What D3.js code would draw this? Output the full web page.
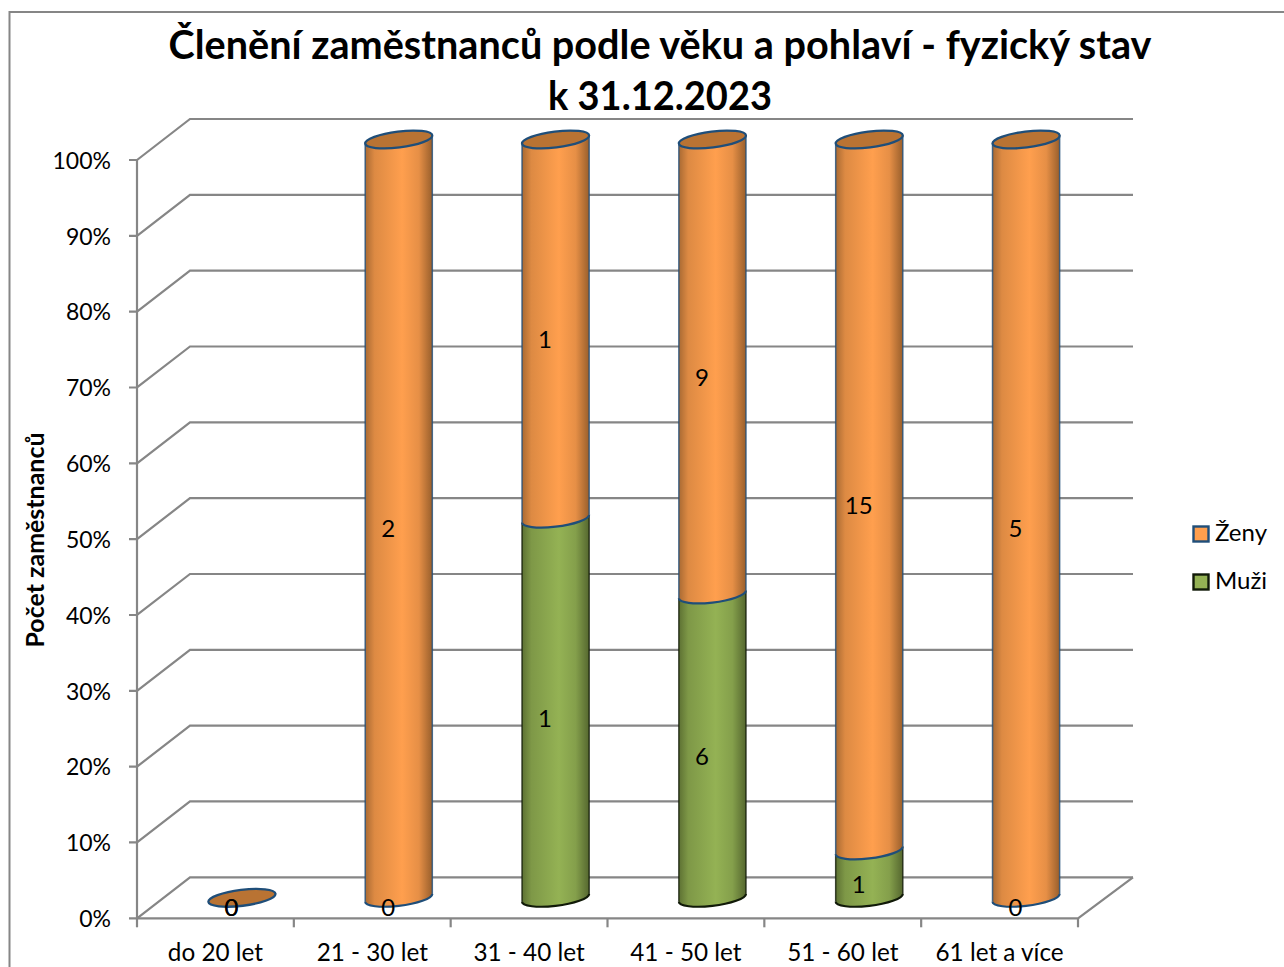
<!DOCTYPE html>
<html><head><meta charset="utf-8">
<script src="https://cdn.jsdelivr.net/npm/d3@7"></script>
<style>html,body{margin:0;padding:0;background:#fff}svg{display:block}text{font-family:Lato,"Open Sans",sans-serif;fill:#000}</style>
</head><body><svg id="c" width="1284" height="967"></svg>
<script>
const categories=["do 20 let","21 - 30 let","31 - 40 let","41 - 50 let","51 - 60 let","61 let a více"];
const zeny=[0,2,1,9,15,5];
const muzi=[0,0,1,6,1,0];
const seriesNames=["Muži","Ženy"];
const titleLines=["Členění zaměstnanců podle věku a pohlaví - fyzický stav","k 31.12.2023"];
const yTicks=[0,.1,.2,.3,.4,.5,.6,.7,.8,.9,1];

const svg=d3.select("#c");
const W=1284,H=967;
const x=d3.scaleBand().domain(categories).range([137,1078]);
const y=d3.scaleLinear().domain([0,1]).range([918.3,160]);
const depth={x:53,y:-41}, mid={x:26.5,y:-20.5}, lab={x:16,y:-10};
const GRID="#868686";

svg.append("path").attr("d",`M9.5,${H}V12H${W}`).attr("fill","none").attr("stroke",GRID).attr("stroke-width",2);

const defs=svg.append("defs");
function grad(id,edgeL,c,edgeR){
  const g=defs.append("linearGradient").attr("id",id);
  [[0,edgeL],[.14,d3.interpolateRgb(edgeL,c)(.6)],[.55,c],[.8,d3.interpolateRgb(c,edgeR)(.25)],[1,edgeR]]
   .forEach(([o,k])=>g.append("stop").attr("offset",o).attr("stop-color",k));
}
grad("gO","#a96a33","#ff9f4e","#995f2c");
grad("gG","#5d7133","#94b254","#55672f");

// walls
const g=svg.append("g").attr("fill","none").attr("stroke",GRID).attr("stroke-width",2.2);
yTicks.forEach(t=>{
  const v=y(t);
  g.append("path").attr("d",`M129,${v}H137L${137+depth.x},${v+depth.y}H${1078+55}`);
});
g.append("path").attr("d",`M137,${y(1)}V${y(0)}H1078L${1078+55},${y(0)+depth.y}`);
g.append("path").attr("d",`M1078,${y(0)}V${y(0)+9}`);
categories.forEach(c=>g.append("path").attr("d",`M${x(c)},${y(0)}V${y(0)+9}`));

// tick labels
svg.append("g").selectAll("text").data(yTicks).join("text")
 .attr("x",111).attr("y",t=>y(t)+3).attr("text-anchor","end").attr("dominant-baseline","middle")
 .attr("font-size",23).text(d3.format(".0%"));
svg.append("g").selectAll("text").data(categories).join("text")
 .attr("x",c=>x(c)+x.bandwidth()/2).attr("y",961).attr("text-anchor","middle")
 .attr("font-size",24.3).text(c=>c);

// cylinders
const table=categories.map((c,i)=>({cat:c,"Muži":muzi[i],"Ženy":zeny[i]}));
const stack=d3.stack().keys(seriesNames).offset(d3.stackOffsetExpand)(table);
const a=33.8,b=8,rot=-7,th=7*Math.PI/180;
const ex=Math.sqrt(a*a*Math.cos(th)**2+b*b*Math.sin(th)**2);
const ey=(a*a-b*b)*Math.sin(th)*Math.cos(th)/ex;
const style={"Ženy":{f:"url(#gO)",s:"#1f4e79"},"Muži":{f:"url(#gG)",s:"#111a08"}};
const bars=svg.append("g");
categories.forEach((c,i)=>{
  const cx=x(c)+x.bandwidth()/2+mid.x;
  stack.forEach(s=>{
    const d=s[i],st=style[s.key];
    if(d[1]-d[0]<=0)return;
    const y0=y(d[0])+mid.y,y1=y(d[1])+mid.y;
    const L=cx-ex,R=cx+ex;
    bars.append("path")
      .attr("d",`M${L},${y1+ey}L${L},${y0+ey}A${a},${b} ${rot} 0 0 ${R},${y0-ey}L${R},${y1-ey}A${a},${b} ${rot} 0 1 ${L},${y1+ey}Z`)
      .attr("fill",st.f);
    bars.append("path").attr("d",`M${L},${y1+ey}V${y0+ey}M${R},${y0-ey}V${y1-ey}`)
      .attr("fill","none").attr("stroke",st.s).attr("stroke-width",1.5).attr("stroke-opacity",.8);
    bars.append("path").attr("d",`M${L},${y0+ey}A${a},${b} ${rot} 0 0 ${R},${y0-ey}`)
      .attr("fill","none").attr("stroke",st.s).attr("stroke-width",2.2);
  });
  // top cap
  const total=zeny[i]+muzi[i];
  const cy=y(total>0?1:0)+mid.y;
  bars.append("ellipse").attr("cx",0).attr("cy",0).attr("rx",a).attr("ry",b)
    .attr("transform",`translate(${cx},${cy}) rotate(${rot})`)
    .attr("fill","#b97333").attr("stroke","#1f4e79").attr("stroke-width",2.3);
});

// data labels
const labels=svg.append("g");
stack.forEach(s=>{
  categories.forEach((c,i)=>{
    const d=s[i];
    labels.append("text")
      .attr("x",x(c)+x.bandwidth()/2+lab.x)
      .attr("y",y((d[0]+d[1])/2)+lab.y+2)
      .attr("text-anchor","middle").attr("dominant-baseline","middle")
      .attr("font-size",24).text(s.key==="Ženy"?zeny[i]:muzi[i]);
  });
});

// axis title
svg.append("text").attr("transform","translate(44,540) rotate(-90)").attr("text-anchor","middle")
 .attr("font-size",24).attr("font-weight",700).attr("textLength",215).attr("lengthAdjust","spacingAndGlyphs").text("Počet zaměstnanců");

// chart title
const titleWidths=[983,224];
svg.append("g").selectAll("text").data(titleLines).join("text")
 .attr("x",660).attr("y",(d,i)=>59+i*51).attr("text-anchor","middle")
 .attr("font-size",40).attr("font-weight",700)
 .attr("textLength",(d,i)=>titleWidths[i]).attr("lengthAdjust","spacingAndGlyphs").text(d=>d);

// legend
const leg=[["Ženy",534],["Muži",582]];
leg.forEach(([n,cy])=>{
  const st=style[n];
  svg.append("rect").attr("x",1193.5).attr("y",cy-7.5).attr("width",15).attr("height",15)
    .attr("fill",n==="Ženy"?"#ff9f4e":"#94b254").attr("stroke",st.s).attr("stroke-width",2.4);
  svg.append("text").attr("x",1215).attr("y",cy+7).attr("font-size",24).text(n);
});
</script></body></html>
